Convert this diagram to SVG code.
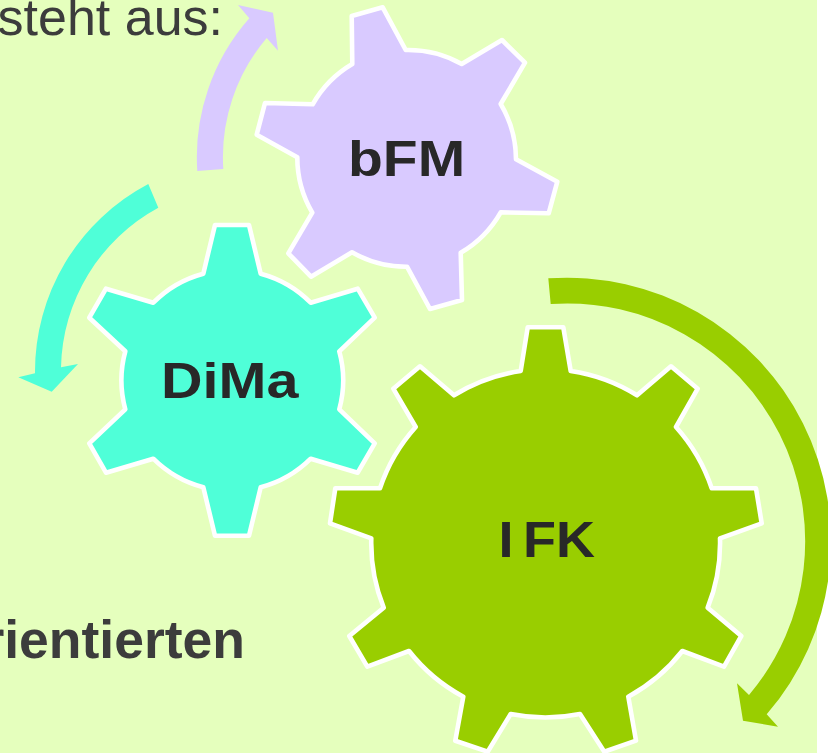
<svg xmlns="http://www.w3.org/2000/svg" width="828" height="753" viewBox="0 0 828 753">
<style>
.gear{stroke:#fff;stroke-width:4.6;stroke-linejoin:round}
.lab{font-family:"Liberation Sans",Arial,sans-serif;font-weight:700;font-size:50px;fill:#282828}
.body{font-family:"Liberation Sans",Arial,sans-serif;font-size:52px;fill:#3c3c3c;text-anchor:end}
</style>
<rect x="0" y="0" width="817" height="753" fill="#e5ffbd"/>
<text class="body" x="223" y="34.500">steht aus:</text>
<text class="body" x="245" y="657.500" style="font-weight:700;font-size:53.500px">rientierten</text>
<g id="connectors">
<path id="arrow-bfm" fill="#d9caff" d="M197.3 171A210 210 0 0 1 249.3 18.3L238 5L273 12.7L278 50.7L266.7 38A184 184 0 0 0 223.3 169Z"/>
<path id="arrow-dima" fill="#4fffd8" d="M148.3 184A212 212 0 0 0 35 373.3L18.3 377.3L51.7 391.7L78 364L61 367.3A186 186 0 0 1 158.3 207.7Z"/>
<path id="arrow-ifk" fill="#99ce00" d="M548.3 278.3A264 264 0 0 1 766.7 714.3L778 726.7L743 720.7L737 683.3L749 695A238 238 0 0 0 550.7 304Z"/>
</g>
<g id="node-bfm">
<path class="gear" fill="#d9caff" d="M351.7 16L382.7 7.3L405.7 50A109 109 0 0 1 461.7 64L502 40L525 62.7L500.7 104A109 109 0 0 1 516 159.3L557.3 181.7L548.7 213.3L500.7 212.3A109 109 0 0 1 460.7 252.7L462 300L430 309L407 266.7A109 109 0 0 1 352 252.3L311 276.7L288.3 253.3L312.3 212.7A109 109 0 0 1 297.3 157.3L256.7 134.7L265 103L312.7 104.3A109 109 0 0 1 352.3 64Z"/>
<text class="lab" transform="translate(348 175.500) scale(1.14 1)">bFM</text>
</g>
<g id="node-dima">
<path class="gear" fill="#4fffd8" d="M215 225L249 225L260.7 273.7A110.500 110.500 0 0 1 310.700 302.700L357.700 288.700L374.700 317.700L339.300 351.300A110.500 110.500 0 0 1 339.300 409.300L374.700 443.300L357.700 472.700L310.700 458.700A110.500 110.500 0 0 1 260.700 487.300L249 535.700L215 535.700L203.300 487.300A110.500 110.500 0 0 1 153.300 458.700L106 472.700L89.300 443.300L125.300 409.300A110.500 110.500 0 0 1 125.300 351.300L89.300 317.700L106 288.700L153.300 302.700A110.500 110.500 0 0 1 203.300 273.700Z"/>
<text class="lab" transform="translate(161 398) scale(1.15 1)">DiMa</text>
</g>
<g id="node-ifk">
<path class="gear" fill="#99ce00" d="M527.700 327.300L563.300 327.300L570.700 371A174 174 0 0 1 637 395.300L671 366.300L697.700 388.700L676 427A174 174 0 0 1 711.700 488.300L756 488.300L761.700 523.300L720 538.300A174 174 0 0 1 707.700 607.700L741.300 636L724 666.700L682.300 651A174 174 0 0 1 628.300 696.700L636 740.700L604.300 751.700L580 714A174 174 0 0 1 510.700 714L487.700 751.700L455.300 740.700L463.300 696.700A174 174 0 0 1 409 651L367.300 666.700L349.300 636L383.700 607.700A174 174 0 0 1 371.300 538.300L330 523.300L335.300 488.300L380 488.300A174 174 0 0 1 415.700 427L393.300 388.700L420 366.300L454 395.300A174 174 0 0 1 520.700 371Z"/>
<text class="lab" transform="translate(498.500 557) scale(1.08 1)">I<tspan dx="8.800">FK</tspan></text>
</g>
</svg>
